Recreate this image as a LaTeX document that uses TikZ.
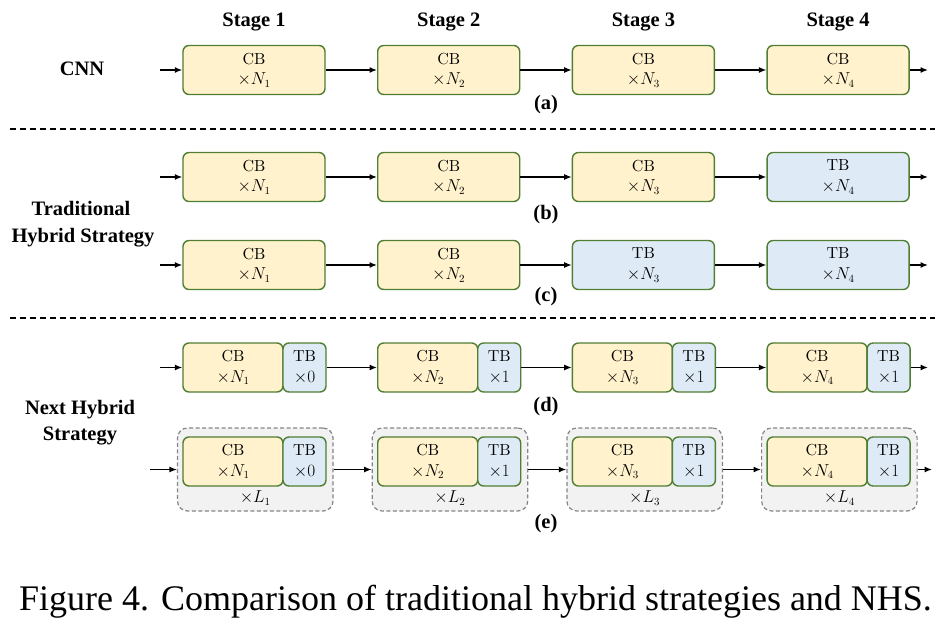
\documentclass[tikz,border=0pt]{standalone}
\usepackage{fontspec}
\newfontfamily\tnr{Liberation Serif}
\newfontfamily\boxfont{lmroman10-regular.otf}
\usetikzlibrary{arrows.meta}
\definecolor{bgreen}{HTML}{507E32}
\definecolor{cbfill}{HTML}{FFF2CC}
\definecolor{tbfill}{HTML}{DEEBF7}
\definecolor{grpfill}{HTML}{F2F2F2}
\definecolor{grpline}{HTML}{858585}
\begin{document}
\begin{tikzpicture}[x=1pt,y=-1pt,
  blk/.style={draw=bgreen, line width=1.4pt, rounded corners=6pt, inner sep=0pt, align=center,
    font=\boxfont\fontsize{16}{20.5}\selectfont, minimum height=49pt},
  cbbox/.style={blk, fill=cbfill},
  tbbox/.style={blk, fill=tbfill},
  grp/.style={draw=grpline, dash pattern=on 4pt off 2.5pt, line width=1.2pt, fill=grpfill,
    rounded corners=10pt, minimum width=155.5pt, minimum height=83pt, inner sep=0pt},
  conn/.style={-{Latex[length=7.5pt,width=6pt]}, line width=1.3pt},
  lbl/.style={font=\tnr\bfseries\fontsize{20.5}{26}\selectfont, anchor=base, inner sep=0pt},
  sepline/.style={dash pattern=on 6pt off 4pt, line width=1.8pt},
  mul/.style={font=\boxfont\fontsize{16}{20.5}\selectfont, inner sep=0pt}
]
\useasboundingbox (0,0) rectangle (941,628);

% stage labels
\foreach \i/\L in {1/183,2/377.7,3/572.4,4/767.1}{
  \node[lbl] (st\i) at (\L+71,27) {Stage \i};
}
\node[lbl] (cnn) at (82,76) {CNN};
\node[lbl] (trad1) at (81,216) {Traditional};
\node[lbl] (trad2) at (83,242) {Hybrid Strategy};
\node[lbl] (nhs1) at (80,414) {Next Hybrid};
\node[lbl] (nhs2) at (80,440) {Strategy};

% separators
\draw[sepline] (10,129) -- (935,129);
\draw[sepline] (10,318) -- (935,318);

% row (a)
\foreach \i/\L in {1/183,2/377.7,3/572.4,4/767.1}{
  \node[cbbox, minimum width=142pt] (a\i) at (\L+71,70) {CB\\$\times N_{\i}$};
}
\coordinate (ain) at (160,70);
\coordinate (aout) at (928,70);
\draw[conn] (ain) -- (a1);
\draw[conn] (a1) -- (a2);
\draw[conn] (a2) -- (a3);
\draw[conn] (a3) -- (a4);
\draw[conn] (a4) -- (aout);
\node[lbl] (la) at (546,110) {(a)};

% row (b)
\foreach \i/\L in {1/183,2/377.7,3/572.4}{
  \node[cbbox, minimum width=142pt] (b\i) at (\L+71,177) {CB\\$\times N_{\i}$};
}
\node[tbbox, minimum width=142pt] (b4) at (767.1+71,177) {TB\\$\times N_{4}$};
\coordinate (bin) at (160,177);
\coordinate (bout) at (928,177);
\draw[conn] (bin) -- (b1);
\draw[conn] (b1) -- (b2);
\draw[conn] (b2) -- (b3);
\draw[conn] (b3) -- (b4);
\draw[conn] (b4) -- (bout);
\node[lbl] (lb) at (546,219) {(b)};

% row (c)
\foreach \i/\L in {1/183,2/377.7}{
  \node[cbbox, minimum width=142pt] (c\i) at (\L+71,265) {CB\\$\times N_{\i}$};
}
\foreach \i/\L in {3/572.4,4/767.1}{
  \node[tbbox, minimum width=142pt] (c\i) at (\L+71,265) {TB\\$\times N_{\i}$};
}
\coordinate (cin) at (160,265);
\coordinate (cout) at (928,265);
\draw[conn] (cin) -- (c1);
\draw[conn] (c1) -- (c2);
\draw[conn] (c2) -- (c3);
\draw[conn] (c3) -- (c4);
\draw[conn] (c4) -- (cout);
\node[lbl] (lc) at (546,301) {(c)};

% row (d)
\foreach \i/\L/\t in {1/183/0,2/377.7/1,3/572.4/1,4/767.1/1}{
  \node[cbbox, minimum width=100pt] (dc\i) at (\L+50,367.5) {CB\\$\times N_{\i}$};
  \node[tbbox, minimum width=43pt] (dt\i) at (\L+121.5,367.5) {TB\\$\times \t$};
}
\coordinate (din) at (160,367.5);
\coordinate (dout) at (928,367.5);
\draw[conn] (din) -- (dc1);
\draw[conn] (dt1) -- (dc2);
\draw[conn] (dt2) -- (dc3);
\draw[conn] (dt3) -- (dc4);
\draw[conn] (dt4) -- (dout);
\node[lbl] (ld) at (546,411) {(d)};

% row (e)
\foreach \i/\L/\t in {1/183/0,2/377.7/1,3/572.4/1,4/767.1/1}{
  \node[grp] (e\i) at (\L+72.25,469.5) {};
  \node[cbbox, minimum width=100pt] (ec\i) at (\L+50,461.5) {CB\\$\times N_{\i}$};
  \node[tbbox, minimum width=43pt] (et\i) at (\L+121.5,461.5) {TB\\$\times \t$};
  \node[mul] (el\i) at (\L+72.25,498) {$\times L_{\i}$};
}
\coordinate (ein) at (150,469.5);
\coordinate (eout) at (932,469.5);
\draw[conn] (ein) -- (e1);
\draw[conn] (e1) -- (e2);
\draw[conn] (e2) -- (e3);
\draw[conn] (e3) -- (e4);
\draw[conn] (e4) -- (eout);
\node[lbl] (le) at (546,528) {(e)};

% caption
\node[font=\tnr\fontsize{36}{40}\selectfont, anchor=base, inner sep=0pt] (cap) at (475.5,610)
  {Figure 4. Comparison of traditional hybrid strategies and NHS.};
\end{tikzpicture}
\end{document}
